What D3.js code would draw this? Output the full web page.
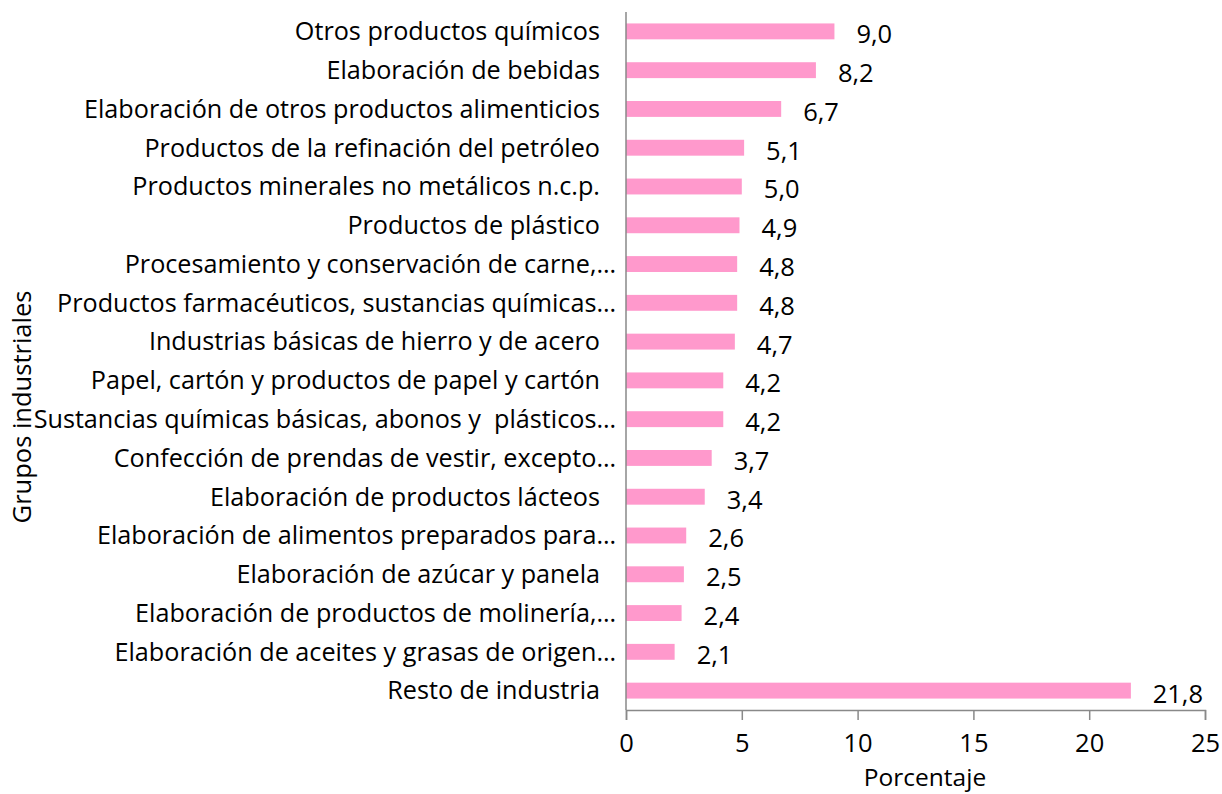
<!DOCTYPE html>
<html>
<head>
<meta charset="utf-8">
<script src="https://cdn.jsdelivr.net/npm/d3@7"></script>
<style>
  body { margin: 0; background: #fff; }
  text { font-family: "Open Sans", "Noto Sans", sans-serif; fill: #000; }
</style>
</head>
<body>
<svg id="chart" width="1222" height="794"></svg>
<script>
var categories = [
  "Otros productos químicos",
  "Elaboración de bebidas",
  "Elaboración de otros productos alimenticios",
  "Productos de la refinación del petróleo",
  "Productos minerales no metálicos n.c.p.",
  "Productos de plástico",
  "Procesamiento y conservación de carne,…",
  "Productos farmacéuticos, sustancias químicas…",
  "Industrias básicas de hierro y de acero",
  "Papel, cartón y productos de papel y cartón",
  "Sustancias químicas básicas, abonos y  plásticos…",
  "Confección de prendas de vestir, excepto…",
  "Elaboración de productos lácteos",
  "Elaboración de alimentos preparados para…",
  "Elaboración de azúcar y panela",
  "Elaboración de productos de molinería,…",
  "Elaboración de aceites y grasas de origen…",
  "Resto de industria"
];
var values = [9.0, 8.2, 6.7, 5.1, 5.0, 4.9, 4.8, 4.8, 4.7, 4.2, 4.2, 3.7, 3.4, 2.6, 2.5, 2.4, 2.1, 21.8];
var xTicks = [0, 5, 10, 15, 20, 25];

var svg = d3.select("#chart"),
    margin = {top: 12, left: 626, right: 17, bottom: 84},
    width = +svg.attr("width"),
    height = +svg.attr("height");

var fontSize = "25.5px";

var x = d3.scaleLinear()
    .domain([0, 25])
    .range([margin.left, width - margin.right]);

var y = d3.scaleBand()
    .domain(categories)
    .range([margin.top, height - margin.bottom])
    .paddingInner(0.59)
    .paddingOuter(0.295);

var fmt = v => d3.format(".1f")(v).replace(".", ",");

// bars
svg.append("g").selectAll("rect")
    .data(categories)
    .enter().append("rect")
    .attr("x", x(0))
    .attr("y", d => y(d))
    .attr("width", (d, i) => x(values[i]) - x(0))
    .attr("height", y.bandwidth())
    .attr("fill", "#ff99cc");

// value labels, pushed back inside the plot if they run past the right edge
svg.append("g").selectAll("text")
    .data(categories)
    .enter().append("text")
    .attr("x", (d, i) => x(values[i]) + 22)
    .attr("y", (d, i) => y(d) + y.bandwidth() / 2 + 3)
    .attr("dy", "0.35em")
    .style("font-size", fontSize)
    .text((d, i) => fmt(values[i]))
    .each(function() {
        var t = d3.select(this),
            w = this.getComputedTextLength(),
            x0 = +t.attr("x");
        if (x0 + w > x(25) - 2) t.attr("x", x(25) - 2 - w);
    });

// category labels
svg.append("g").selectAll("text")
    .data(categories)
    .enter().append("text")
    .attr("x", d => d.endsWith("…") ? 616 : 600)
    .attr("y", d => y(d) + y.bandwidth() / 2)
    .attr("dy", "0.35em")
    .attr("text-anchor", "end")
    .style("font-size", "25.2px")
    .style("white-space", "pre")
    .text(d => d);

// axes
var axisColor = "#898989";
var yBottom = height - margin.bottom;

svg.append("line")
    .attr("x1", x(0)).attr("x2", x(0))
    .attr("y1", margin.top).attr("y2", yBottom)
    .attr("stroke", axisColor).attr("stroke-width", 1.5);

var xAxis = svg.append("g")
    .attr("transform", `translate(0,${yBottom})`)
    .call(d3.axisBottom(x).tickValues(xTicks).tickSize(10).tickFormat(d => d));

xAxis.select(".domain").attr("stroke", axisColor).attr("stroke-width", 1.5);
xAxis.selectAll(".tick line").attr("stroke", axisColor).attr("stroke-width", 1.5);
xAxis.selectAll(".tick text")
    .attr("y", 24)
    .attr("dy", "0.71em")
    .style("font-size", fontSize)
    .style("font-family", "'Open Sans', 'Noto Sans', sans-serif")
    .attr("fill", "#000");

// axis titles
svg.append("text")
    .attr("x", 925)
    .attr("y", 786)
    .attr("text-anchor", "middle")
    .style("font-size", "24.5px")
    .text("Porcentaje");

svg.append("text")
    .attr("transform", "translate(31,407) rotate(-90)")
    .attr("text-anchor", "middle")
    .style("font-size", fontSize)
    .text("Grupos industriales");
</script>
</body>
</html>
